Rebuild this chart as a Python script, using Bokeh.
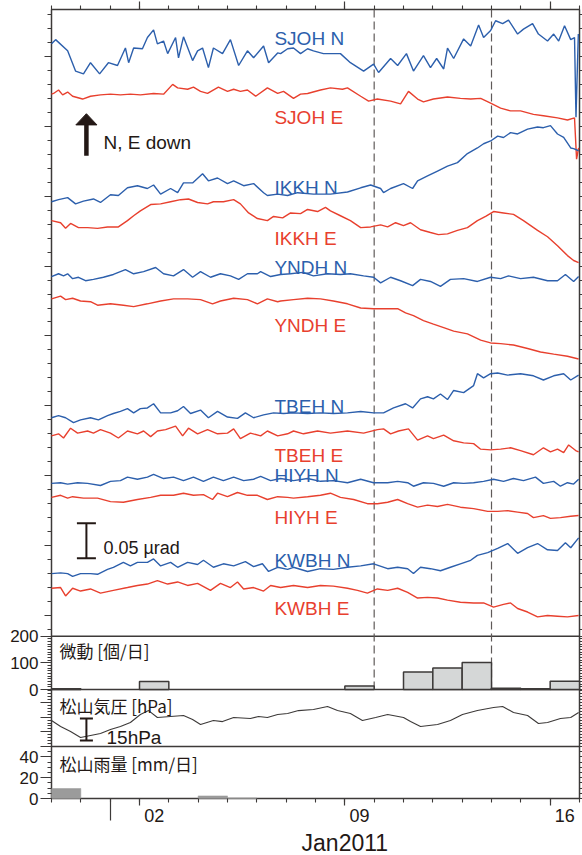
from bokeh.plotting import figure
from bokeh.models import Range1d, LinearAxis, FixedTicker
from bokeh.core.properties import value
from bokeh.embed import file_html
from bokeh.resources import INLINE

# ---------------- data (time in days from 2010-12-30 00:00) ----------------
DAY_INDEX = list(range(18))                       # 2010-12-30 ... 2011-01-16
TREMOR_PER_DAY = [3, 0, 0, 30, 0, 0, 0, 0, 0, 0, 13, 0, 66, 81, 101, 5, 3, 31]
RAIN_MM_PER_DAY = [9.6, 0, 0, 0, 0, 2.5, 0.5, 0, 0, 0, 0, 0, 0, 0, 0, 0, 0, 0]
EVENT_DAYS = [11, 15]                              # dashed lines: Jan 10, Jan 14
DATE_TICK_DAYS = [3.5, 10.5, 17.5]                 # middle of Jan 2, Jan 9, Jan 16
DATE_TICK_LABELS = ["02", "09", "16"]

PRESSURE = [(0.00, 1017.7), (0.31, 1013.6), (0.65, 1010.2), (0.99, 1006.1), (1.33, 1007.5),
            (1.67, 1008.9), (2.01, 1011.6), (2.35, 1013.6), (2.69, 1016.4), (3.03, 1021.8),
            (3.31, 1024.5), (3.61, 1019.8), (4.06, 1020.5), (4.50, 1021.1), (4.81, 1018.4),
            (5.08, 1015.0), (5.52, 1017.7), (5.83, 1017.0), (6.21, 1019.8), (6.78, 1019.1),
            (7.06, 1020.5), (7.36, 1019.8), (7.71, 1021.8), (8.05, 1022.5), (8.42, 1024.5),
            (8.93, 1025.2), (9.41, 1027.3), (9.75, 1024.5), (10.19, 1022.5), (10.60, 1017.7),
            (11.05, 1019.8), (11.46, 1021.8), (12.00, 1019.8), (12.24, 1017.0), (12.58, 1013.6),
            (13.16, 1015.0), (13.60, 1017.7), (14.01, 1021.8), (14.52, 1024.5), (15.07, 1026.6),
            (15.38, 1027.3), (15.75, 1023.2), (16.23, 1021.1), (16.60, 1015.7), (16.91, 1016.4),
            (17.35, 1019.1), (17.70, 1019.8), (17.97, 1023.2)]

# tilt, nrad relative to each record's start
SJOH_N = [(0.00,0),(0.14,6),(0.55,-10),(0.82,-39),(1.09,-43),(1.33,-27),(1.64,-43),(1.94,-27),(2.25,-31),(2.52,-6),(2.63,-27),(2.80,-6),(3.10,-7),(3.27,9),(3.48,20),(3.61,0),(3.82,4),(3.96,-14),(4.23,9),(4.33,-20),(4.50,10),(4.81,-24),(4.98,-10),(5.15,-6),(5.35,-34),(5.52,-6),(5.83,-14),(6.10,6),(6.38,-31),(6.68,-10),(6.89,-20),(7.23,-3),(7.40,-27),(7.71,-13),(7.81,-14),(8.05,-7),(8.25,-6),(8.49,-14),(8.73,-7),(8.93,-10),(9.27,-14),(9.85,-14),(10.19,-27),(10.64,-39),(10.98,-29),(11.15,-41),(11.56,-21),(11.80,-31),(12.10,-14),(12.34,-39),(12.68,-17),(12.92,-34),(13.13,-21),(13.37,-36),(13.50,-6),(13.71,-21),(14.05,7),(14.29,-3),(14.56,27),(14.73,9),(14.97,19),(15.14,33),(15.38,29),(15.58,34),(15.89,14),(16.09,21),(16.40,29),(16.60,14),(16.91,4),(17.12,14),(17.29,4),(17.49,26),(17.70,6),(17.83,9),(17.88,-105),(17.96,14)]
SJOH_E = [(0.00,0),(0.07,1),(0.24,6),(0.38,-1),(0.55,3),(0.72,-3),(1.06,-7),(1.33,-3),(1.67,-1),(2.01,0),(2.35,-1),(2.69,0),(3.03,-1),(3.48,1),(3.82,0),(4.13,14),(4.30,9),(4.64,7),(4.84,10),(5.08,4),(5.32,1),(5.69,10),(6.00,4),(6.21,7),(6.44,4),(6.68,6),(6.96,-3),(7.36,9),(7.71,1),(7.91,4),(8.25,-6),(8.49,0),(8.73,1),(9.17,6),(9.51,9),(9.92,7),(10.09,9),(10.54,-3),(10.81,-10),(11.11,-7),(11.56,-10),(11.90,-14),(12.17,4),(12.48,-7),(12.68,-11),(13.02,-7),(13.50,-4),(13.94,-6),(14.29,-7),(14.63,-6),(14.97,-13),(15.31,-20),(15.65,-24),(15.99,-24),(16.43,-29),(16.77,-31),(17.25,-34),(17.59,-37),(17.83,-34),(17.90,-93),(17.97,-77)]
IKKH_N = [(0.00,0),(0.24,3),(0.55,6),(0.82,-3),(1.09,1),(1.43,4),(1.67,-1),(2.01,10),(2.28,9),(2.59,20),(2.93,23),(3.27,19),(3.48,24),(3.72,11),(4.06,19),(4.30,13),(4.50,27),(4.81,27),(5.15,40),(5.35,30),(5.66,34),(6.00,26),(6.21,30),(6.55,23),(6.89,26),(7.23,13),(7.36,9),(7.71,11),(8.05,9),(8.39,13),(8.93,11),(9.51,11),(10.09,14),(10.54,20),(10.88,24),(11.22,19),(11.32,13),(11.56,19),(12.00,26),(12.31,19),(12.48,30),(12.82,37),(13.16,44),(13.50,51),(13.84,56),(14.18,69),(14.52,77),(14.73,83),(14.97,87),(15.21,94),(15.41,92),(15.65,99),(15.89,97),(16.23,104),(16.57,107),(16.77,106),(17.01,109),(17.25,97),(17.46,92),(17.70,77),(17.80,76),(17.97,73)]
IKKH_E = [(0.00,0),(0.31,-3),(0.48,-11),(0.65,-4),(0.92,-10),(1.23,-10),(1.57,-11),(1.91,-9),(2.28,-9),(2.59,0),(2.80,7),(3.03,14),(3.38,23),(3.72,24),(4.06,27),(4.40,30),(4.67,31),(4.98,26),(5.32,24),(5.52,27),(5.86,27),(6.21,30),(6.44,24),(6.72,11),(7.02,3),(7.36,0),(7.57,6),(7.88,4),(8.15,11),(8.49,10),(8.73,16),(9.07,13),(9.34,19),(9.51,14),(9.85,7),(10.19,0),(10.54,-10),(10.88,-9),(11.22,-6),(11.46,-9),(11.73,-3),(12.00,-7),(12.24,-3),(12.58,-13),(12.92,-17),(13.19,-20),(13.50,-19),(13.84,-14),(14.18,-10),(14.52,0),(14.80,6),(15.07,13),(15.41,11),(15.75,9),(16.09,0),(16.57,-14),(16.91,-23),(17.25,-36),(17.59,-50),(17.80,-57),(17.97,-60)]
YNDH_N = [(0.00,0),(0.24,4),(0.41,1),(0.55,4),(0.72,-3),(0.92,-1),(1.16,-6),(1.43,-4),(1.77,-1),(2.11,3),(2.52,10),(2.80,4),(3.14,7),(3.55,13),(3.82,4),(4.16,1),(4.50,10),(4.81,-1),(5.08,7),(5.42,-1),(5.76,4),(6.10,1),(6.38,-4),(6.68,4),(7.02,4),(7.13,7),(7.47,0),(7.81,3),(8.15,4),(8.56,6),(8.93,1),(9.41,4),(9.85,3),(10.19,4),(10.64,1),(10.98,-1),(11.22,-9),(11.56,-1),(11.90,-6),(12.31,-13),(12.58,-4),(12.92,-7),(13.26,-14),(13.60,-4),(14.05,-3),(14.52,-7),(14.97,-1),(15.31,-3),(15.58,1),(15.99,-3),(16.43,-1),(16.91,-6),(17.25,-6),(17.52,3),(17.80,-7),(17.97,0)]
YNDH_E = [(0.00,0),(0.31,4),(0.48,-1),(0.72,1),(0.99,-3),(1.33,-4),(1.57,-9),(2.01,-7),(2.45,-9),(2.80,-11),(3.27,-7),(3.72,-3),(4.16,0),(4.64,0),(5.08,-1),(5.49,-7),(5.76,-3),(6.21,1),(6.68,-1),(7.02,-7),(7.36,0),(7.71,-4),(7.81,-3),(8.25,-1),(8.73,1),(9.17,0),(9.61,-3),(10.09,-7),(10.54,-13),(10.98,-14),(11.46,-14),(11.80,-14),(12.07,-20),(12.34,-24),(12.68,-31),(13.02,-36),(13.37,-41),(13.71,-46),(14.18,-50),(14.63,-59),(14.97,-63),(15.31,-64),(15.75,-66),(16.23,-71),(16.67,-76),(17.12,-79),(17.59,-82),(17.97,-86)]
TBEH_N = [(0.00,0),(0.24,3),(0.48,0),(0.75,-7),(0.99,-3),(1.33,0),(1.60,-3),(1.91,3),(2.11,6),(2.35,9),(2.59,13),(2.80,7),(3.03,13),(3.27,14),(3.48,20),(3.72,7),(4.06,7),(4.30,10),(4.50,16),(4.74,6),(5.08,11),(5.35,0),(5.66,9),(6.00,1),(6.34,-1),(6.61,7),(6.89,0),(7.23,4),(7.57,7),(7.91,6),(8.25,7),(8.73,6),(9.17,7),(9.61,6),(10.09,7),(10.54,9),(10.98,7),(11.32,7),(11.66,14),(12.07,20),(12.31,14),(12.58,27),(12.82,30),(13.02,27),(13.26,34),(13.50,26),(13.71,39),(14.05,36),(14.39,46),(14.52,63),(14.73,57),(14.97,63),(15.21,64),(15.55,61),(15.99,63),(16.43,60),(16.77,54),(17.12,60),(17.46,63),(17.70,54),(17.97,61)]
TBEH_E = [(0.00,0),(0.24,3),(0.41,-3),(0.65,11),(0.89,4),(1.23,7),(1.43,4),(1.67,9),(2.01,4),(2.28,-3),(2.59,7),(2.93,3),(3.14,7),(3.38,-1),(3.61,7),(3.89,9),(4.23,14),(4.47,0),(4.67,11),(4.98,3),(5.32,9),(5.66,3),(6.00,4),(6.21,10),(6.44,-4),(6.78,4),(7.13,0),(7.36,7),(7.71,0),(8.05,3),(8.25,7),(8.59,3),(9.07,7),(9.51,4),(10.09,7),(10.64,4),(11.11,9),(11.32,10),(11.56,3),(11.83,7),(12.17,10),(12.48,-6),(12.82,0),(13.02,-4),(13.37,1),(13.71,-7),(14.05,-10),(14.39,-11),(14.63,-19),(14.97,-20),(15.31,-19),(15.65,-17),(15.99,-21),(16.43,-27),(16.77,-17),(17.01,-23),(17.25,-19),(17.46,-24),(17.63,-13),(17.87,-21),(17.97,-23)]
HIYH_N = [(0.00,0),(0.31,1),(0.55,-1),(0.89,1),(1.23,0),(1.67,-3),(2.01,3),(2.35,4),(2.59,9),(2.93,6),(3.27,9),(3.48,13),(3.82,7),(4.16,9),(4.50,4),(4.84,9),(5.18,3),(5.52,9),(5.86,4),(6.21,9),(6.55,4),(6.89,6),(7.13,10),(7.47,4),(7.81,7),(8.25,4),(8.73,7),(9.17,3),(9.61,4),(10.09,1),(10.54,6),(10.98,1),(11.46,1),(11.80,3),(12.14,1),(12.34,-4),(12.68,1),(13.02,0),(13.37,-4),(13.71,1),(14.05,0),(14.39,1),(14.73,3),(15.07,6),(15.41,3),(15.75,7),(16.09,4),(16.50,9),(16.77,0),(17.12,3),(17.35,-4),(17.59,1),(17.80,-1),(17.97,6)]
HIYH_E = [(0.00,0),(0.31,3),(0.55,-1),(0.72,1),(1.09,-1),(1.57,-1),(2.01,-6),(2.45,-7),(2.93,-3),(3.38,0),(3.72,3),(4.16,3),(4.50,6),(4.84,3),(5.18,4),(5.49,-3),(5.66,6),(6.00,1),(6.34,7),(6.68,3),(7.02,3),(7.36,-3),(7.71,1),(8.05,0),(8.25,-1),(8.73,1),(9.17,3),(9.51,6),(9.85,0),(10.30,-3),(10.77,-9),(11.11,-9),(11.46,-7),(11.80,-3),(12.14,-9),(12.48,-14),(12.82,-11),(13.16,-13),(13.50,-10),(13.94,-14),(14.39,-16),(14.87,-20),(15.21,-20),(15.55,-19),(15.89,-21),(16.23,-23),(16.43,-29),(16.77,-26),(17.01,-30),(17.35,-29),(17.70,-27),(17.97,-26)]
KWBH_N = [(0.00,0),(0.31,1),(0.55,0),(0.72,-4),(0.99,0),(1.33,0),(1.57,-1),(1.91,6),(2.11,9),(2.45,16),(2.69,11),(2.93,16),(3.27,16),(3.48,21),(3.72,11),(4.06,16),(4.30,9),(4.64,16),(4.98,13),(5.18,19),(5.52,9),(5.86,14),(6.21,11),(6.61,17),(6.89,10),(7.19,14),(7.40,3),(7.71,9),(8.05,6),(8.25,9),(8.73,3),(9.17,7),(9.61,6),(10.09,9),(10.54,11),(10.98,14),(11.46,7),(11.80,9),(12.14,7),(12.34,0),(12.58,9),(12.92,7),(13.26,4),(13.60,9),(13.94,14),(14.29,19),(14.52,26),(14.87,30),(15.21,36),(15.55,43),(15.89,29),(16.23,37),(16.57,43),(16.91,34),(17.25,33),(17.52,44),(17.70,37),(17.97,51)]
KWBH_E = [(0.00,0),(0.31,1),(0.48,-11),(0.72,0),(0.99,-4),(1.33,-1),(1.67,-7),(2.11,-3),(2.59,1),(2.93,4),(3.27,6),(3.61,11),(3.96,6),(4.30,9),(4.64,4),(4.98,7),(5.42,-3),(5.76,7),(6.10,1),(6.34,9),(6.55,-1),(6.89,1),(7.23,-4),(7.47,4),(7.81,1),(8.25,4),(8.73,1),(9.17,4),(9.61,3),(10.09,0),(10.43,-3),(10.77,-7),(11.11,-1),(11.46,-3),(11.80,0),(12.14,-6),(12.48,-14),(12.82,-13),(13.16,-14),(13.50,-17),(13.94,-20),(14.39,-21),(14.73,-21),(15.07,-27),(15.41,-23),(15.65,-21),(15.89,-29),(16.23,-34),(16.57,-41),(16.91,-39),(17.25,-40),(17.59,-41),(17.97,-39)]

STATIONS = ["SJOH N", "SJOH E", "IKKH N", "IKKH E", "YNDH N", "YNDH E",
            "TBEH N", "TBEH E", "HIYH N", "HIYH E", "KWBH N", "KWBH E"]
TRACES = [SJOH_N, SJOH_E, IKKH_N, IKKH_E, YNDH_N, YNDH_E,
          TBEH_N, TBEH_E, HIYH_N, HIYH_E, KWBH_N, KWBH_E]

# ---------------- layout / style ----------------
TRACE_OFFSET = [818, 746, 592, 565, 485, 453, 283, 257, 189, 169, 60, 39]
LABEL_Y = [825, 712, 612, 539, 498, 415, 299, 229, 200, 140, 79, 10]
LABEL_X = 7.6
T0, T1 = 0, 18                       # time extent of the panels (days)
MAIN_TOP, MAIN_BOTTOM = 867, -30     # tilt panel extent (nrad, default range)
FRAME_BOTTOM = -262                  # bottom of rain panel in the default range
TREM_TOP_ALL = 2551                  # top of tilt panel in tremor units
BLUE, RED = "#2c5fac", "#e8402e"
INK = "#231815"
AX = "#3d3a39"
FONTNAME = "Liberation Sans"
FONT = value(FONTNAME)
CJK = value("Noto Sans CJK JP")

# The canvas is all frame; the visible panels are drawn inside it so that axis
# ticks and labels (fixed at the panel edges) are not clipped.
p = figure(width=582, height=855, x_range=Range1d(-1.7386, 18.102), y_range=Range1d(-343.4, 880.0),
           x_axis_type=None, y_axis_type=None, output_backend="svg", toolbar_location=None,
           min_border_left=0, min_border_right=0, min_border_top=0, min_border_bottom=0)
p.outline_line_color = None
p.background_fill_color = "white"
p.border_fill_color = "white"
p.extra_y_ranges = {"trem": Range1d(-622.8, 2585.1), "pres": Range1d(925.7, 1508.6),
                    "rain": Range1d(-54.8, 767.3)}


def axis(ticks, minor, fixed, rng="default", bounds="auto", out=7, mout=4, labels=None,
         size="17px", standoff=2, horizontal=False):
    kw = dict(ticker=FixedTicker(ticks=ticks, minor_ticks=minor), fixed_location=fixed,
              axis_line_color=None, major_tick_in=0, minor_tick_in=0,
              major_tick_out=out, minor_tick_out=mout,
              major_tick_line_color=AX if out > 0 else None,
              minor_tick_line_color=AX if mout > 0 else None,
              major_tick_line_width=1.2, minor_tick_line_width=1.1,
              major_label_text_font=FONTNAME, major_label_text_color=INK,
              major_label_text_font_size=size,
              major_label_standoff=standoff, bounds=bounds,
              major_label_overrides=labels if labels is not None else {t: "" for t in ticks})
    if not horizontal:
        kw["y_range_name"] = rng
    return LinearAxis(**kw)


def numeric(ticks):
    return {t: str(t) for t in ticks}


# left / right axes of each panel
main_ticks = list(range(0, 801, 100))
main_minor = list(range(-20, 861, 20))
p.add_layout(axis(main_ticks, main_minor, T0, bounds=(MAIN_BOTTOM, MAIN_TOP)), "left")
p.add_layout(axis(main_ticks, main_minor, T1, bounds=(MAIN_BOTTOM, MAIN_TOP), out=3, mout=3), "right")
trem_minor = list(range(0, 201, 10))
p.add_layout(axis([0, 100, 200], trem_minor, T0, "trem", (0, 200), out=11,
                  labels=numeric([0, 100, 200])), "left")
p.add_layout(axis([0, 100, 200], trem_minor, T1, "trem", (0, 200), out=3, mout=3), "right")
pres_minor = list(range(1000, 1039, 2))
p.add_layout(axis([1000, 1010, 1020, 1030], pres_minor, T0, "pres", (1000, 1038.8), out=11), "left")
p.add_layout(axis([1000, 1010, 1020, 1030], pres_minor, T1, "pres", (1000, 1038.8), out=3, mout=3), "right")
rain_minor = list(range(0, 51, 5))
p.add_layout(axis([0, 20, 40], rain_minor, T0, "rain", (0, 50), out=11,
                  labels=numeric([0, 20, 40])), "left")
p.add_layout(axis([0, 20, 40], rain_minor, T1, "rain", (0, 50), out=3, mout=3), "right")

# top / bottom time axes
days_all = list(range(T0, T1 + 1))
p.add_layout(axis([3, 10, 17], days_all, MAIN_TOP, out=8, mout=4, horizontal=True), "above")
p.add_layout(axis([3, 10, 17], days_all, FRAME_BOTTOM, out=7, mout=4, horizontal=True), "below")
p.add_layout(axis([2], [], FRAME_BOTTOM, out=22, mout=0, horizontal=True), "below")
p.add_layout(axis(DATE_TICK_DAYS, [], FRAME_BOTTOM, out=0, mout=0, size="18px", standoff=10,
                  labels={d: s for d, s in zip(DATE_TICK_DAYS, DATE_TICK_LABELS)},
                  horizontal=True), "below")
p.add_layout(axis([10], [], FRAME_BOTTOM, out=0, mout=0, size="23px", standoff=31,
                  labels={10: "Jan2011"}, horizontal=True), "below")

# panel frames
p.quad(left=[T0], right=[T1], bottom=[FRAME_BOTTOM], top=[MAIN_TOP], fill_color=None,
       line_color=AX, line_width=1.5)
p.segment(x0=[T0, T0], x1=[T1, T1], y0=[200, 0], y1=[200, 0], y_range_name="trem",
          line_color=AX, line_width=1.5)
p.segment(x0=[T0], x1=[T1], y0=[50], y1=[50], y_range_name="rain", line_color=AX, line_width=1.5)

# dashed event lines (main + tremor panel)
p.segment(x0=EVENT_DAYS, x1=EVENT_DAYS, y0=[0] * len(EVENT_DAYS), y1=[TREM_TOP_ALL] * len(EVENT_DAYS),
          y_range_name="trem", line_color="#5f5a59", line_width=1.2, line_dash="8 4")

# tilt traces
for i, (name, tr) in enumerate(zip(STATIONS, TRACES)):
    t = [a for a, _ in tr]
    v = [TRACE_OFFSET[i] + b for _, b in tr]
    p.line(t, v, line_color=BLUE if i % 2 == 0 else RED, line_width=1.4)

p.text(x=[LABEL_X] * len(STATIONS), y=LABEL_Y, text=STATIONS,
       text_color=[BLUE if i % 2 == 0 else RED for i in range(len(STATIONS))],
       text_font=FONT, text_font_size="19px", text_baseline="alphabetic", text_align="left")

# "N, E down" arrow
AX_X = 1.19
p.segment(x0=[AX_X], x1=[AX_X], y0=[658], y1=[704], line_color=INK, line_width=4.5)
p.patch(x=[AX_X - 0.36, AX_X, AX_X + 0.36], y=[702, 718, 702], fill_color=INK, line_color=INK)
p.text(x=[1.77], y=[677], text=["N, E down"], text_color=INK, text_font=FONT,
       text_font_size="19px", text_baseline="alphabetic")

# 0.05 urad scale bar
p.segment(x0=[AX_X], x1=[AX_X], y0=[82], y1=[132], line_color=INK, line_width=2)
p.dash(x=[AX_X, AX_X], y=[82, 132], size=19, line_color=INK, line_width=2)
p.text(x=[1.77], y=[97], text=["0.05 µrad"], text_color=INK, text_font=FONT,
       text_font_size="18px", text_baseline="alphabetic")

# tremor bars
tx = [d + 0.5 for d, c in zip(DAY_INDEX, TREMOR_PER_DAY) if c > 0]
tc = [c for c in TREMOR_PER_DAY if c > 0]
p.vbar(x=tx, width=1, bottom=0, top=tc, y_range_name="trem",
       fill_color="#d5d7d7", line_color=AX, line_width=1.5)
p.text(x=[0.27], y=[146], text=["微動 [個/日]"], text_color=INK, text_font=CJK,
       text_font_size="17px", text_baseline="middle", y_range_name="trem")

# pressure
p.line([a for a, _ in PRESSURE], [b for _, b in PRESSURE], y_range_name="pres",
       line_color=AX, line_width=1.1)
p.segment(x0=[AX_X], x1=[AX_X], y0=[1004.1], y1=[1019.1], y_range_name="pres",
          line_color=INK, line_width=2)
p.dash(x=[AX_X, AX_X], y=[1004.1, 1019.1], size=13, line_color=INK, line_width=2,
       y_range_name="pres")
p.text(x=[1.875], y=[1006.1], text=["15hPa"], text_color=INK, text_font=FONT,
       text_font_size="19px", text_baseline="alphabetic", y_range_name="pres")
p.text(x=[0.27], y=[1028], text=["松山気圧 [hPa]"], text_color=INK, text_font=CJK,
       text_font_size="17px", text_baseline="middle", y_range_name="pres")

# rain
rx = [d + 0.5 for d, r in zip(DAY_INDEX, RAIN_MM_PER_DAY) if r > 0]
rr = [r for r in RAIN_MM_PER_DAY if r > 0]
p.vbar(x=rx, width=1, bottom=0, top=rr, y_range_name="rain",
       fill_color="#9b9b9b", line_color="#9b9b9b", line_width=0.5)
p.text(x=[0.27], y=[34.1], text=["松山雨量 [mm/日]"], text_color=INK, text_font=CJK,
       text_font_size="17px", text_baseline="middle", y_range_name="rain")

open("out.html", "w").write(file_html(p, INLINE))
